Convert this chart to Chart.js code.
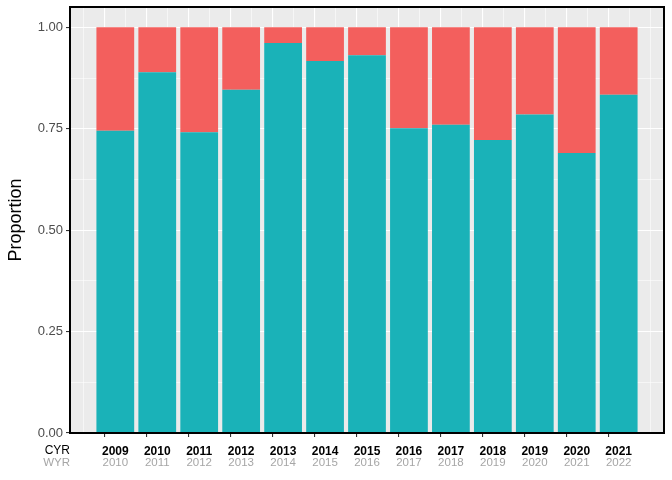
<!DOCTYPE html>
<html>
<head>
<meta charset="utf-8">
<script src="https://cdn.jsdelivr.net/npm/chart.js@4.4.0/dist/chart.umd.min.js"></script>
<style>
  html, body { margin: 0; padding: 0; background: #fff; }
  #wrap { width: 672px; height: 480px; }
</style>
</head>
<body>
<div id="wrap"><canvas id="chart" width="672" height="480"></canvas></div>
<script>
// calendar year (top row) and water year (bottom row) labels
const cyrLabels = [2009, 2010, 2011, 2012, 2013, 2014, 2015, 2016, 2017, 2018, 2019, 2020, 2021];
const wyrLabels = [2010, 2011, 2012, 2013, 2014, 2015, 2016, 2017, 2018, 2019, 2020, 2021, 2022];

// proportions
const propTeal = [0.745, 0.889, 0.741, 0.846, 0.961, 0.917, 0.931, 0.751, 0.760, 0.722, 0.785, 0.690, 0.834];
const propRed  = [0.255, 0.111, 0.259, 0.154, 0.039, 0.083, 0.069, 0.249, 0.240, 0.278, 0.215, 0.310, 0.166];

const yTicks = [0, 0.125, 0.25, 0.375, 0.5, 0.625, 0.75, 0.875, 1.0];
const yMajor = [0, 0.25, 0.5, 0.75, 1.0];

const teal = "#1AB2B8";
const red = "#F35F5D";
const font = "'Liberation Sans', Arial, sans-serif";

const xMin = -1.08;
const xMax = cyrLabels.length - 1 + 1.08;
let xGridTicks = [];
for (let i = -0.5; i <= cyrLabels.length - 0.5; i += 0.5) xGridTicks.push(i);

const isMajorY = (v) => yMajor.some((m) => Math.abs(m - v) < 1e-6);
const tickVal = (c) => (c && c.tick ? c.tick.value : NaN);

// grey panel behind grid, black box, WYR row and CYR/WYR row names on top
const panelPlugin = {
  id: "panel",
  beforeDraw(chart) {
    const { ctx, chartArea: a } = chart;
    ctx.save();
    ctx.fillStyle = "#EBEBEB";
    ctx.fillRect(a.left, a.top, a.right - a.left, a.bottom - a.top);
    ctx.restore();
  },
  afterDraw(chart) {
    const { ctx, chartArea: a } = chart;
    const xs = chart.scales.x;
    ctx.save();
    ctx.strokeStyle = "#000";
    ctx.lineWidth = 2;
    ctx.strokeRect(a.left, a.top, a.right - a.left, a.bottom - a.top);
    ctx.textBaseline = "middle";
    ctx.textAlign = "right";
    ctx.font = "12px " + font;
    ctx.fillStyle = "#000";
    ctx.fillText("CYR", a.left, 451);
    ctx.fillStyle = "#A6A6A6";
    ctx.font = "11.5px " + font;
    ctx.fillText("WYR", a.left, 463);
    ctx.textAlign = "center";
    wyrLabels.forEach((w, i) => {
      ctx.fillText(String(w), xs.getPixelForValue(i), 463);
    });
    ctx.restore();
  },
};

Chart.defaults.font.family = font;

new Chart(document.getElementById("chart"), {
  type: "bar",
  data: {
    datasets: [
      {
        label: "teal",
        data: propTeal.map((v, i) => ({ x: i, y: v })),
        backgroundColor: teal,
        borderWidth: 0,
        categoryPercentage: 1,
        // grid ticks sit every half year, so the ruler gap is half a slot
        barPercentage: 1.8,
      },
      {
        label: "red",
        data: propRed.map((v, i) => ({ x: i, y: v })),
        backgroundColor: red,
        borderWidth: 0,
        categoryPercentage: 1,
        barPercentage: 1.8,
      },
    ],
  },
  options: {
    responsive: false,
    animation: false,
    layout: { padding: { top: 7, right: 8, bottom: 10, left: 0 } },
    plugins: { legend: { display: false }, tooltip: { enabled: false } },
    scales: {
      x: {
        type: "linear",
        stacked: true,
        min: xMin,
        max: xMax,
        offset: false,
        afterBuildTicks: (s) => {
          s.ticks = xGridTicks.map((v) => ({ value: v }));
        },
        afterFit: (s) => {
          s.height = 37;
          s.paddingLeft = 0;
          s.paddingRight = 0;
        },
        grid: {
          color: "#FFFFFF",
          lineWidth: (c) => (Number.isInteger(tickVal(c)) ? 1.1 : 0.55),
          tickColor: (c) => (Number.isInteger(tickVal(c)) ? "#333333" : "rgba(0,0,0,0)"),
          tickLength: 4,
          tickWidth: 1.1,
        },
        border: { display: false },
        ticks: {
          autoSkip: false,
          maxRotation: 0,
          padding: 7,
          color: "#000",
          font: { size: 12, weight: "bold" },
          callback: (v) => (Number.isInteger(v) ? String(cyrLabels[v]) : ""),
        },
      },
      y: {
        stacked: true,
        min: 0,
        max: 1.05,
        afterBuildTicks: (s) => {
          s.ticks = yTicks.map((v) => ({ value: v }));
        },
        afterFit: (s) => {
          s.width = 70;
          s.paddingTop = 0;
          s.paddingBottom = 0;
        },
        grid: {
          color: "#FFFFFF",
          lineWidth: (c) => (isMajorY(tickVal(c)) ? 1.1 : 0.55),
          tickColor: (c) => (isMajorY(tickVal(c)) ? "#333333" : "rgba(0,0,0,0)"),
          tickLength: 4,
          tickWidth: 1.1,
        },
        border: { display: false },
        ticks: {
          padding: 3,
          color: "#4D4D4D",
          font: { size: 13 },
          callback: (v) => (isMajorY(v) ? v.toFixed(2) : ""),
        },
        title: {
          display: true,
          text: "Proportion",
          color: "#000",
          font: { size: 18 },
          padding: { top: 5, bottom: 0 },
        },
      },
    },
  },
  plugins: [panelPlugin],
});
</script>
</body>
</html>
